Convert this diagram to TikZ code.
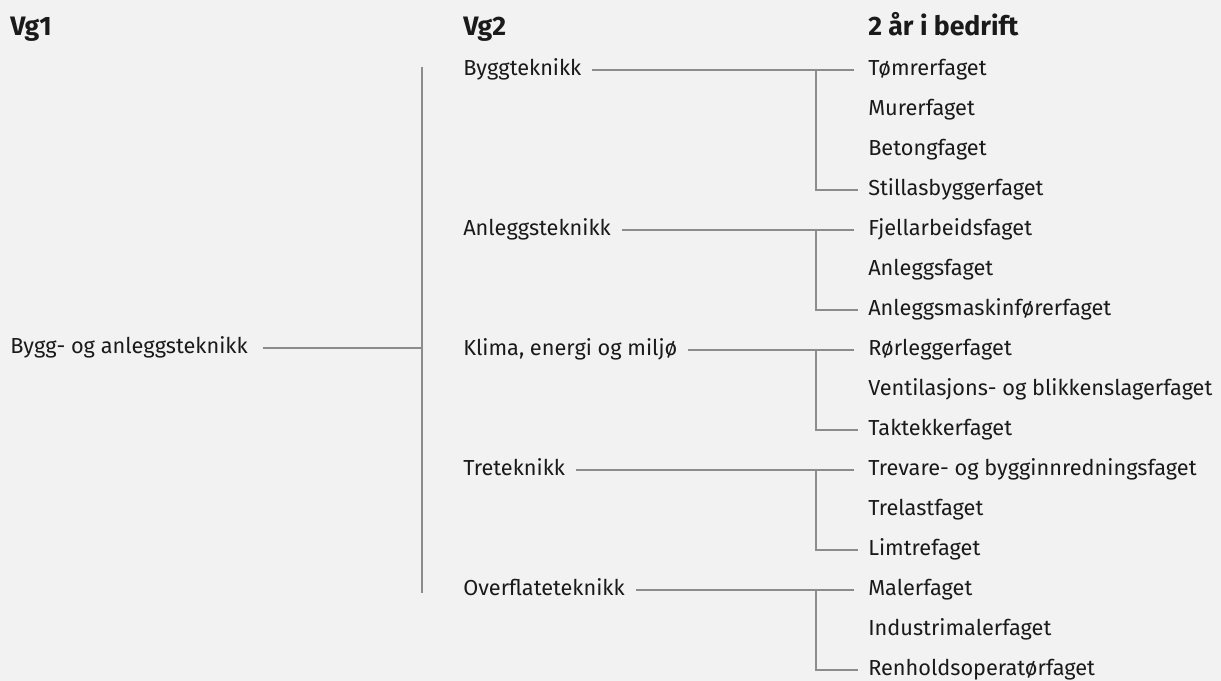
\documentclass[tikz,border=0pt]{standalone}
\usepackage{fontspec}
\setmainfont{Fira Sans}
\usepackage{xcolor}
\usetikzlibrary{positioning}
\definecolor{bg}{HTML}{F2F2F2}
\definecolor{linegrey}{HTML}{8C8C8C}
\definecolor{ink}{HTML}{1A1A1A}
\newcommand{\RowH}{40}
\newcommand{\RowTop}{70}
\newcommand{\ColA}{10}
\newcommand{\ColB}{463}
\newcommand{\ColC}{868}
\newcommand{\Fork}{816}
\newcommand{\Spine}{422}

\begin{document}
\begin{tikzpicture}[x=0.75pt,y=-0.75pt,
    every node/.style={font=\fontsize{16.3}{20}\selectfont, text=ink, inner sep=0pt,
      anchor=west, text height=12.5pt, text depth=3.8pt},
    head/.style={font=\fontsize{20}{24}\selectfont\bfseries},
    link/.style={draw=linegrey, line width=1.1pt}]
    % background and frame of the picture
    \fill[bg] (0,0) rectangle (1221,681);
    \useasboundingbox (0,0) rectangle (1221,681);

    % column heads
    \path (\ColA,30) node (H1) [head] {Vg1};
    \path (\ColB,30) node (H2) [head] {Vg2};
    \path (\ColC,30) node (H3) [head] {2 år i bedrift};

    % Vg1
    \path (\ColA,348) node (A) {Bygg- og anleggsteknikk};

    % Vg2 (one node per group)
    \path (\ColB,\RowTop+0*\RowH) node (G1) {Byggteknikk};
    \path (\ColB,\RowTop+4*\RowH) node (G2) {Anleggsteknikk};
    \path (\ColB,\RowTop+7*\RowH) node (G3) {Klima, energi og miljø};
    \path (\ColB,\RowTop+10*\RowH) node (G4) {Treteknikk};
    \path (\ColB,\RowTop+13*\RowH) node (G5) {Overflateteknikk};

    % 2 aar i bedrift
    \foreach \name [count=\i from 0] in {Tømrerfaget, Murerfaget, Betongfaget,
        Stillasbyggerfaget, Fjellarbeidsfaget, Anleggsfaget, Anleggsmaskinførerfaget,
        Rørleggerfaget, Ventilasjons- og blikkenslagerfaget, Taktekkerfaget,
        Trevare- og bygginnredningsfaget, Trelastfaget, Limtrefaget, Malerfaget,
        Industrimalerfaget, Renholdsoperatørfaget}{
      \path (\ColC,\RowTop+\i*\RowH) node (C\i) {\name};
    }

    % spine and fork columns
    \coordinate (S1) at (\Spine,67);
    \coordinate (S2) at (\Spine,593);
    \coordinate (F) at (\Fork,0);

    \draw[link] (S1) -- (S2);
    \draw[link, shorten <=11pt] (A.east) -- (A -| S1);

    % G = group, first child, last child
    \foreach \g/\f/\l in {1/0/3, 2/4/6, 3/7/9, 4/10/12, 5/13/15}{
      \draw[link, shorten <=8pt, shorten >=10.5pt] (G\g.east) -- (C\f.west);
      \draw[link, shorten >=7.5pt] (G\g -| F) -- (C\l -| F) -- (C\l.west);
    }
\end{tikzpicture}
\end{document}
